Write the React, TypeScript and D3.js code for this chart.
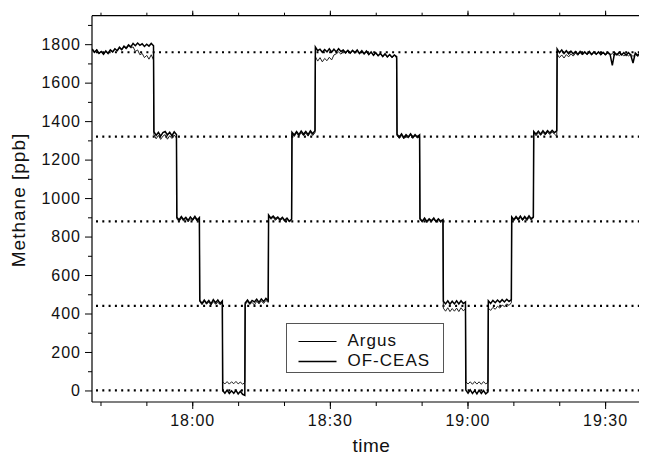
import React, { useEffect, useRef } from "react";
import * as d3 from "d3";

const W = 647;
const H = 455;
const plot = { left: 92, top: 15.7, right: 647, bottom: 402 };

// minutes after 18:00 where the calibration step changes
const segBounds = [
  -21.85, -8.4, -3.4, 1.6, 6.6, 11.5, 16.6, 21.7, 26.8, 44.6, 49.6, 54.7, 59.6,
  64.5, 69.6, 74.4, 79.5, 99.13,
];

// dotted reference levels (ppb)
const refLevels = [1758, 1319, 879, 440, 0];

const yMajor = [0, 200, 400, 600, 800, 1000, 1200, 1400, 1600, 1800];
const yMinor = [100, 300, 500, 700, 900, 1100, 1300, 1500, 1700, 1900];

// readings per step, Argus analyser
const argusSegs = [
  [1768, 1755, 1772, 1750, 1764, 1748, 1762, 1752, 1770, 1758, 1776, 1764, 1780, 1770, 1786, 1774, 1792, 1780, 1786, 1762, 1770, 1745, 1752, 1730, 1742, 1722, 1745, 1718],
  [1330, 1308, 1326, 1305, 1322, 1330, 1306, 1324, 1310, 1328, 1312],
  [892, 878, 896, 880, 894, 876, 892, 882, 898, 880, 890],
  [462, 446, 464, 448, 460, 444, 462, 448, 458, 446, 455],
  [44, 34, 46, 33, 45, 35, 47, 34, 44, 32, 42],
  [446, 462, 448, 458, 444, 464, 450, 466, 452, 468, 458],
  [904, 890, 900, 884, 896, 882, 894, 878, 890, 876, 886],
  [1335, 1320, 1338, 1322, 1340, 1324, 1338, 1322, 1342, 1325, 1340],
  [1735, 1712, 1730, 1708, 1726, 1714, 1732, 1718, 1744, 1750, 1760, 1748, 1762, 1750, 1766, 1752, 1764, 1754, 1762, 1750, 1764, 1748, 1760, 1746, 1758, 1742, 1754, 1738, 1750, 1734, 1748, 1732, 1745, 1730, 1742, 1728],
  [1324, 1310, 1326, 1308, 1322, 1312, 1328, 1310, 1324, 1312, 1320],
  [888, 874, 890, 872, 886, 876, 890, 874, 888, 872, 884],
  [428, 412, 430, 410, 426, 412, 428, 410, 430, 414, 424],
  [44, 34, 45, 32, 46, 33, 45, 32, 46, 34, 42],
  [428, 416, 432, 422, 438, 428, 444, 436, 450, 442, 456],
  [896, 882, 898, 884, 900, 884, 898, 882, 900, 886, 896],
  [1338, 1324, 1340, 1326, 1342, 1328, 1342, 1330, 1344, 1332, 1322],
  [1748, 1730, 1744, 1728, 1746, 1734, 1750, 1738, 1754, 1742, 1756, 1744, 1758, 1746, 1756, 1744, 1758, 1746, 1756, 1744, 1754, 1742, 1754, 1742, 1752, 1740, 1752, 1740, 1750, 1738, 1750, 1738, 1748, 1736, 1748, 1736, 1746, 1736, 1746, 1738],
];

// readings per step, OF-CEAS analyser
const ofceasSegs = [
  [1775, 1758, 1770, 1752, 1762, 1748, 1765, 1752, 1770, 1760, 1776, 1766, 1784, 1772, 1790, 1780, 1796, 1786, 1804, 1792, 1806, 1794, 1802, 1788, 1800, 1790, 1804, 1792],
  [1345, 1326, 1342, 1322, 1340, 1346, 1328, 1342, 1324, 1344, 1330],
  [900, 886, 904, 888, 900, 884, 902, 888, 905, 886, 898],
  [468, 452, 470, 454, 468, 450, 472, 456, 470, 452, 465],
  [0, -14, 2, -16, -2, -15, 1, -18, -4, -20, -25],
  [455, 470, 452, 468, 460, 474, 458, 476, 462, 478, 466],
  [912, 896, 906, 892, 902, 888, 900, 884, 896, 880, 890],
  [1342, 1328, 1346, 1330, 1348, 1332, 1346, 1330, 1350, 1334, 1350],
  [1785, 1766, 1774, 1758, 1772, 1760, 1776, 1758, 1774, 1760, 1776, 1762, 1770, 1756, 1768, 1754, 1768, 1756, 1770, 1752, 1766, 1750, 1764, 1746, 1760, 1742, 1756, 1740, 1752, 1736, 1750, 1734, 1746, 1732, 1744, 1735],
  [1332, 1316, 1334, 1314, 1330, 1318, 1334, 1316, 1330, 1318, 1328],
  [894, 880, 896, 878, 892, 882, 896, 878, 892, 880, 888],
  [464, 450, 466, 448, 464, 450, 466, 450, 466, 452, 460],
  [2, -14, 3, -15, 0, -18, 2, -16, -1, -18, -8],
  [466, 452, 468, 456, 470, 458, 472, 460, 474, 462, 472],
  [902, 888, 904, 890, 906, 888, 904, 890, 908, 892, 902],
  [1346, 1332, 1348, 1332, 1350, 1334, 1350, 1338, 1352, 1340, 1350],
  [1775, 1756, 1770, 1752, 1766, 1750, 1764, 1750, 1762, 1748, 1762, 1748, 1760, 1748, 1762, 1746, 1760, 1748, 1760, 1746, 1758, 1746, 1758, 1748, 1690, 1756, 1744, 1758, 1744, 1756, 1742, 1756, 1744, 1702, 1754, 1742, 1754, 1740, 1752, 1742],
];

const base = new Date(2000, 0, 1, 18, 0, 0).getTime();
const at = (min) => new Date(base + min * 60000);

// spread each step's readings across its time span
function toPoints(segs) {
  const pts = [];
  segs.forEach((vals, i) => {
    const t0 = segBounds[i] + 0.04;
    const t1 = segBounds[i + 1] - 0.04;
    vals.forEach((v, k) => {
      pts.push({ t: at(t0 + ((t1 - t0) * k) / (vals.length - 1)), v });
    });
  });
  return pts;
}

const FONT = "'Liberation Sans', Arial, Helvetica, sans-serif";

const App = () => {
  const svgRef = useRef(null);

  useEffect(() => {
    const svg = d3.select(svgRef.current);
    svg.selectAll("*").remove();

    const x = d3
      .scaleTime()
      .domain([at(segBounds[0]), at(segBounds[segBounds.length - 1])])
      .range([plot.left, plot.right]);

    const y = d3
      .scaleLinear()
      .domain([-60, 1948])
      .range([plot.bottom, plot.top]);

    svg
      .append("defs")
      .append("clipPath")
      .attr("id", "plotclip")
      .append("rect")
      .attr("x", plot.left)
      .attr("y", plot.top)
      .attr("width", plot.right - plot.left)
      .attr("height", plot.bottom - plot.top);

    // dotted reference levels
    svg
      .append("g")
      .selectAll("line")
      .data(refLevels)
      .enter()
      .append("line")
      .attr("x1", plot.left + 4)
      .attr("x2", plot.right)
      .attr("y1", (d) => y(d))
      .attr("y2", (d) => y(d))
      .attr("stroke", "#000")
      .attr("stroke-width", 2.2)
      .attr("stroke-dasharray", "2 4.3");

    const line = d3
      .line()
      .x((d) => x(d.t))
      .y((d) => y(d.v));

    const data = svg.append("g").attr("clip-path", "url(#plotclip)");
    data
      .append("path")
      .attr("d", line(toPoints(argusSegs)))
      .attr("fill", "none")
      .attr("stroke", "#222")
      .attr("stroke-width", 1);
    data
      .append("path")
      .attr("d", line(toPoints(ofceasSegs)))
      .attr("fill", "none")
      .attr("stroke", "#000")
      .attr("stroke-width", 1.5);

    const styleAxis = (g) => {
      g.select(".domain").remove();
      g.selectAll("line").attr("stroke", "#000");
      g.selectAll("text")
        .attr("fill", "#111")
        .style("font-family", FONT)
        .style("font-size", "16px")
        .style("letter-spacing", "1px");
    };

    // bottom axis
    svg
      .append("g")
      .attr("transform", `translate(0,${plot.bottom})`)
      .call(
        d3.axisBottom(x).ticks(d3.timeMinute.every(10)).tickSize(4).tickFormat(() => "")
      )
      .call(styleAxis);
    svg
      .append("g")
      .attr("transform", `translate(0,${plot.bottom})`)
      .call(
        d3
          .axisBottom(x)
          .ticks(d3.timeMinute.every(30))
          .tickSize(7)
          .tickPadding(6)
          .tickFormat(d3.timeFormat("%H:%M"))
      )
      .call(styleAxis);

    // top axis
    svg
      .append("g")
      .attr("transform", `translate(0,${plot.top})`)
      .call(d3.axisTop(x).ticks(d3.timeMinute.every(10)).tickSize(3).tickFormat(() => ""))
      .call(styleAxis);
    svg
      .append("g")
      .attr("transform", `translate(0,${plot.top})`)
      .call(d3.axisTop(x).ticks(d3.timeMinute.every(30)).tickSize(5).tickFormat(() => ""))
      .call(styleAxis);

    // left axis
    svg
      .append("g")
      .attr("transform", `translate(${plot.left},0)`)
      .call(d3.axisLeft(y).tickValues(yMinor).tickSize(4).tickFormat(() => ""))
      .call(styleAxis);
    svg
      .append("g")
      .attr("transform", `translate(${plot.left},0)`)
      .call(d3.axisLeft(y).tickValues(yMajor).tickSize(7).tickPadding(4).tickFormat(d3.format("d")))
      .call(styleAxis);

    // frame
    const frame = svg.append("g").attr("stroke", "#000").attr("stroke-width", 1.2);
    frame.append("line").attr("x1", plot.left).attr("x2", plot.left).attr("y1", plot.top).attr("y2", plot.bottom);
    frame.append("line").attr("x1", plot.left).attr("x2", plot.right).attr("y1", plot.bottom).attr("y2", plot.bottom);
    frame.append("line").attr("x1", plot.left).attr("x2", plot.right).attr("y1", plot.top).attr("y2", plot.top);

    // axis titles
    svg
      .append("text")
      .attr("x", (plot.left + plot.right) / 2 + 2)
      .attr("y", 452)
      .attr("text-anchor", "middle")
      .style("font-family", FONT)
      .style("font-size", "19px")
      .style("letter-spacing", "0.5px")
      .attr("fill", "#111")
      .text("time");

    svg
      .append("text")
      .attr("transform", "rotate(-90)")
      .attr("x", -200)
      .attr("y", 25)
      .attr("text-anchor", "middle")
      .style("font-family", FONT)
      .style("font-size", "19px")
      .style("letter-spacing", "1px")
      .attr("fill", "#111")
      .text("Methane [ppb]");

    // legend
    const legend = svg.append("g").attr("transform", "translate(286.5,323.5)");
    legend
      .append("rect")
      .attr("width", 157)
      .attr("height", 49)
      .attr("fill", "#fff")
      .attr("stroke", "#555")
      .attr("stroke-width", 1);
    const items = [
      { name: "Argus", w: 1 },
      { name: "OF-CEAS", w: 1.5 },
    ];
    items.forEach((it, i) => {
      legend
        .append("line")
        .attr("x1", 12)
        .attr("x2", 50)
        .attr("y1", 18 + i * 20)
        .attr("y2", 18 + i * 20)
        .attr("stroke", "#000")
        .attr("stroke-width", it.w);
      legend
        .append("text")
        .attr("x", 61)
        .attr("y", 22 + i * 20)
        .style("font-family", FONT)
        .style("font-size", "17px")
        .style("letter-spacing", "1px")
        .attr("fill", "#111")
        .text(it.name);
    });
  }, []);

  return (
    <div style={{ width: W, height: H }}>
      <svg ref={svgRef} width={W} height={H} style={{ display: "block", marginLeft: -8, marginTop: -8 }}></svg>
    </div>
  );
};

export default App;
